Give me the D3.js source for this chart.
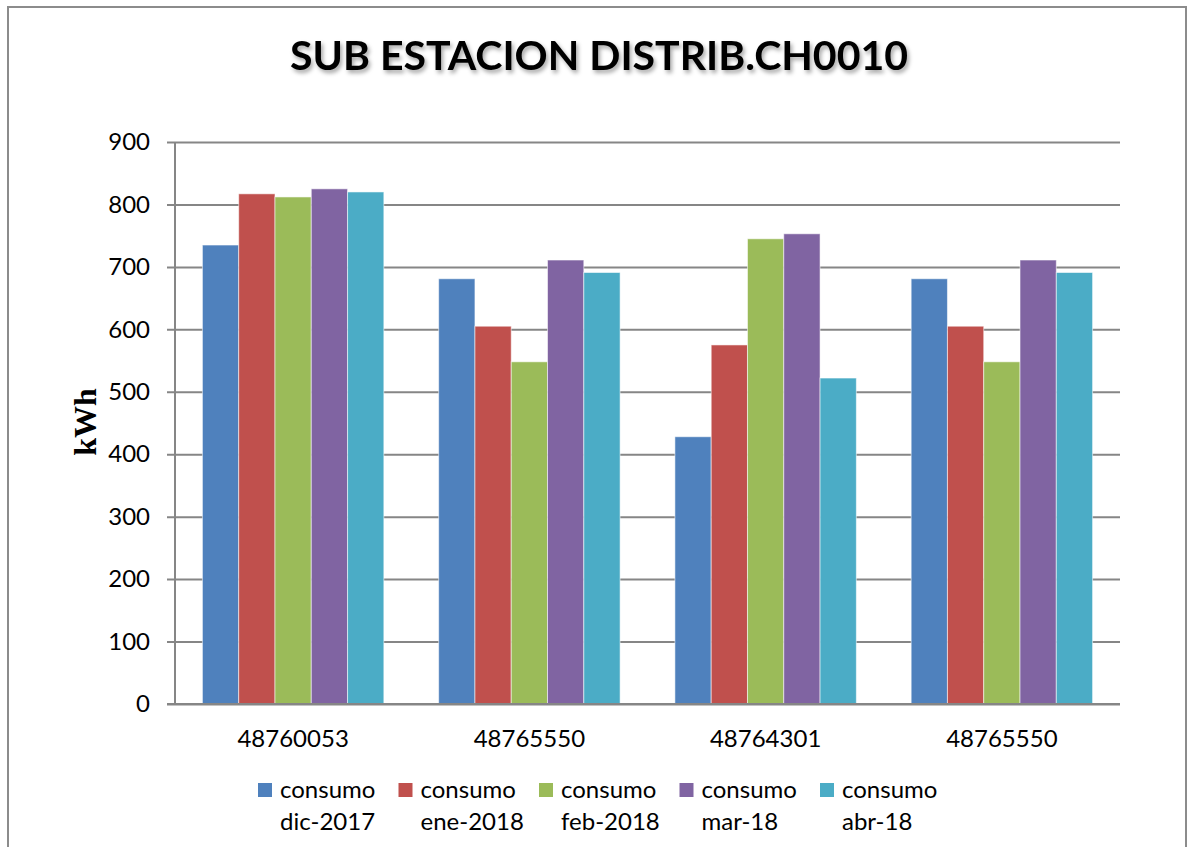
<!DOCTYPE html>
<html>
<head>
<meta charset="utf-8">
<script src="https://cdn.jsdelivr.net/npm/d3@7"></script>
<style>
  body { margin: 0; background: #fff; }
  svg { display: block; }
  .axis text { font-family: Lato, "Open Sans", sans-serif; font-size: 24px; fill: #000; }
</style>
</head>
<body>
<svg id="chart" width="1189" height="847"></svg>
<script>
// Meter ids on the x axis (the last one repeats in the source)
const meters = ["48760053", "48765550", "48764301", "48765550"];

// One array per month, one value per meter (kWh)
const dic2017 = [735, 681, 428, 681];
const ene2018 = [817, 605, 575, 605];
const feb2018 = [812, 548, 745, 548];
const mar18 = [825, 711, 753, 711];
const abr18 = [820, 691, 522, 691];

const seriesNames = ["dic-2017", "ene-2018", "feb-2018", "mar-18", "abr-18"];
const seriesValues = [dic2017, ene2018, feb2018, mar18, abr18];
const colors = ["#4F81BD", "#C0504D", "#9BBB59", "#8064A2", "#4BACC6"];
const yTicks = [0, 100, 200, 300, 400, 500, 600, 700, 800, 900];

const svg = d3.select("#chart");

// outer chart border
svg.append("rect")
  .attr("x", 8).attr("y", 7)
  .attr("width", 1178).attr("height", 860)
  .attr("fill", "#fff")
  .attr("stroke", "#8c8c8c")
  .attr("stroke-width", 2);

// title with soft shadow
const defs = svg.append("defs");
const f = defs.append("filter").attr("id", "shadow")
  .attr("x", "-5%").attr("y", "-20%").attr("width", "110%").attr("height", "150%");
f.append("feDropShadow")
  .attr("dx", 2).attr("dy", 3).attr("stdDeviation", 2)
  .attr("flood-color", "#000").attr("flood-opacity", 0.35);

const title = svg.append("text")
  .attr("x", 599).attr("y", 70)
  .attr("text-anchor", "middle")
  .attr("font-family", "Lato, 'Open Sans', sans-serif")
  .attr("font-weight", "bold")
  .attr("font-size", 40)
  .attr("filter", "url(#shadow)")
  .text("SUB ESTACION DISTRIB.CH0010");
const tw = title.node().getComputedTextLength();
if (Math.abs(tw - 618) > 4) {
  title.attr("textLength", 618).attr("lengthAdjust", "spacingAndGlyphs");
}

// plot area
const plotLeft = 175, plotRight = 1120, plotTop = 142, plotBottom = 704;

const x0 = d3.scaleBand()
  .domain(meters.map((d, i) => i))
  .range([plotLeft, plotRight])
  .paddingInner(0.232)
  .paddingOuter(0.116);

const x1 = d3.scaleBand()
  .domain(seriesNames)
  .range([0, x0.bandwidth()]);

const y = d3.scaleLinear().domain([0, 900]).range([plotBottom, plotTop]);

// gridlines + y axis
const yAxis = svg.append("g")
  .attr("class", "axis")
  .attr("transform", `translate(${plotLeft},0)`)
  .call(d3.axisLeft(y).tickValues(yTicks).tickSize(8).tickPadding(6));
yAxis.select(".domain").remove();
yAxis.selectAll(".tick line").attr("stroke", "#868686").attr("stroke-width", 2)
  .attr("x2", plotRight - plotLeft).attr("x1", -8);
yAxis.selectAll(".tick text").attr("x", -25);

// bars
const groups = svg.append("g")
  .selectAll("g")
  .data(meters.map((m, i) => i))
  .join("g")
  .attr("transform", (i) => `translate(${x0(i)},0)`);

groups.selectAll("rect")
  .data((i) => seriesNames.map((s, k) => ({ s: s, v: seriesValues[k][i], c: colors[k] })))
  .join("rect")
  .attr("x", (d) => x1(d.s))
  .attr("y", (d) => y(d.v))
  .attr("width", x1.bandwidth())
  .attr("height", (d) => y(0) - y(d.v))
  .attr("fill", (d) => d.c)
  .attr("stroke", "rgba(255,255,255,0.55)")
  .attr("stroke-width", 1);

// vertical axis line
svg.append("line")
  .attr("x1", plotLeft).attr("x2", plotLeft)
  .attr("y1", plotTop).attr("y2", plotBottom)
  .attr("stroke", "#868686").attr("stroke-width", 2);

// x axis
const xAxis = svg.append("g")
  .attr("class", "axis")
  .attr("transform", `translate(0,${plotBottom})`)
  .call(d3.axisBottom(x0).tickFormat((i) => meters[i]).tickSize(0).tickPadding(26));
xAxis.select(".domain").attr("stroke", "#868686").attr("stroke-width", 2)
  .attr("d", `M${plotLeft - 8},0H${plotRight}`);

// y axis label
svg.append("text")
  .attr("transform", "translate(96,422) rotate(-90)")
  .attr("text-anchor", "middle")
  .attr("font-family", "'Liberation Serif', 'DejaVu Serif', serif")
  .attr("font-weight", "bold")
  .attr("font-size", 32)
  .text("kWh");

// legend
const legend = svg.append("g")
  .selectAll("g")
  .data(seriesNames)
  .join("g")
  .attr("transform", (d, i) => `translate(${258 + i * 140.5},0)`);

legend.append("rect")
  .attr("x", 0).attr("y", 783)
  .attr("width", 14).attr("height", 14)
  .attr("fill", (d, i) => colors[i]);

legend.append("text")
  .attr("x", 22).attr("y", 798)
  .attr("font-family", "Lato, 'Open Sans', sans-serif")
  .attr("font-size", 24)
  .text("consumo");

legend.append("text")
  .attr("x", 22).attr("y", 830)
  .attr("font-family", "Lato, 'Open Sans', sans-serif")
  .attr("font-size", 24)
  .text((d) => d);
</script>
</body>
</html>
